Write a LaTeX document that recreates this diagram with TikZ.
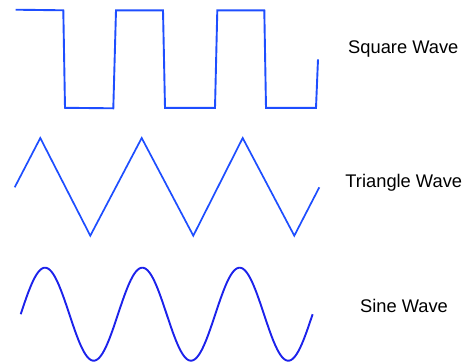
\documentclass[tikz,border=0pt]{standalone}
\usepackage{fontspec}
\setmainfont{Liberation Sans}
\usepackage{xcolor}
\definecolor{wavea}{RGB}{30,78,255}
\definecolor{waveb}{RGB}{28,34,235}

\begin{document}
\begin{tikzpicture}[x=1pt,y=-1pt,
  wave/.style={line width=1.9pt, line join=miter, color=wavea},
  wavelabel/.style={font=\fontsize{18.3}{22}\selectfont, text=black, anchor=center, inner sep=0pt}]
\useasboundingbox (0,0) rectangle (466,362);
\def\sqhi{10.3}
\def\sqlo{107.8}
% square wave
\draw[wave] (15.7,9.7) -- (63.3,\sqhi) -- (65,\sqlo) -- (113.3,\sqlo+0.5)
  -- (116,\sqhi) -- (163,\sqhi) -- (165,\sqlo) -- (215,\sqlo)
  -- (217.3,\sqhi) -- (264.3,\sqhi) -- (266,\sqlo) -- (316,\sqlo)
  -- (318,59.3);
% triangle wave
\def\trhi{138}
\def\trlo{235.7}
\draw[wave, line width=1.7pt] (14.7,187.3) -- (40.3,\trhi) -- (90.3,\trlo)
  -- (141.7,\trhi) -- (193.3,\trlo) -- (242.7,\trhi) -- (294.3,\trlo)
  -- (319.3,187.3);
% sine wave
\draw[wave, color=waveb, domain=20.7:312.6, samples=240, smooth]
  plot (\x, {314.2 - 46.5*sin((\x-20.7)/97.3*360)});
% labels
\node[wavelabel] (sqlabel) at (403.3,49.3) {Square Wave};
\node[wavelabel] (trlabel) at (403.8,182.3) {Triangle Wave};
\node[wavelabel] (silabel) at (404,306) {Sine Wave};
\end{tikzpicture}
\end{document}
